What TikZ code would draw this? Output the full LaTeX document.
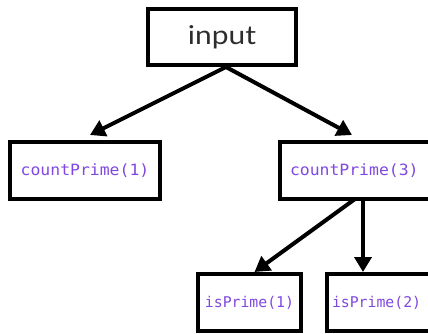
\documentclass[tikz,border=0pt]{standalone}
\usepackage{fontspec}
\usetikzlibrary{arrows.meta}
\newfontfamily\codefont[FakeStretch=1.06]{DejaVu Sans Mono}
\newfontfamily\smallcodefont[FakeStretch=1.0]{DejaVu Sans Mono}
\newfontfamily\labelfont[FakeStretch=1.15]{Lato}
\definecolor{callpurple}{RGB}{128,72,224}
\definecolor{labelgray}{RGB}{45,45,45}
\begin{document}
\begin{tikzpicture}[x=1pt,y=-1pt,
  box/.style={draw=black, line width=4.5pt, fill=white, rectangle, inner ysep=0pt, outer sep=0pt},
  call/.style={box, font=\codefont\fontsize{15.5}{17}\selectfont, text=callpurple},
  smallcall/.style={box, font=\smallcodefont\fontsize{14.8}{16}\selectfont, text=callpurple},
  link/.style={line width=4pt, -{Triangle[width=17pt,length=15pt]}}]
\useasboundingbox (0,0) rectangle (428,334);
\clip (0,0) rectangle (428,334);
% tree of calls
\node[box, minimum width=148pt, minimum height=56pt,
      font=\labelfont\fontsize{26}{28}\selectfont, text=labelgray] (input) at (222,37) {input};
\node[call, minimum width=150pt, minimum height=57pt] (cp1) at (85,170.5) {countPrime(1)};
\node[call, anchor=north west, minimum height=57pt, text width=150pt,
      inner xsep=10pt, align=left] (cp3) at (280,142) {countPrime(3)};
\node[smallcall, minimum width=103pt, minimum height=57pt] (ip1) at (249.5,302.5) {isPrime(1)};
\node[smallcall, anchor=north west, minimum height=57pt, text width=120pt,
      inner xsep=5pt, align=left] (ip2) at (327,274) {isPrime(2)};
% edges
\coordinate (fork) at ([xshift=4pt,yshift=-2pt]input.south);
\draw[link] (fork) -- ([xshift=5pt,yshift=7pt]cp1.north);
\draw[link] (fork) -- ([xshift=72pt,yshift=7pt]cp3.north west);
\draw[link] ([xshift=75pt]cp3.south west) -- ([xshift=5pt,yshift=2pt]ip1.north);
\draw[link] ([xshift=83pt]cp3.south west) -- ([xshift=36pt,yshift=2pt]ip2.north west);
\end{tikzpicture}
\end{document}
